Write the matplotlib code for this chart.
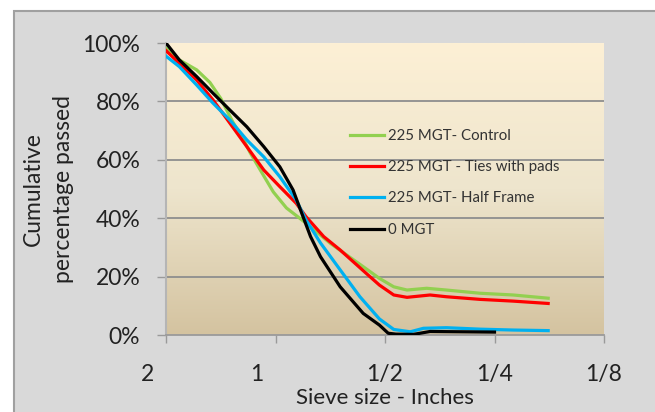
import numpy as np
import matplotlib.pyplot as plt
from matplotlib.patches import Rectangle
from matplotlib.transforms import ScaledTranslation
from matplotlib.colors import LinearSegmentedColormap

plt.rcParams['font.family'] = ['Lato', 'DejaVu Sans']

# sieve sizes (inches) and cumulative % passed
control_x = [2.0, 1.838, 1.647, 1.515, 1.414, 1.311, 1.225, 1.175, 1.101, 1.014, 0.933,
             0.824, 0.707, 0.574, 0.518, 0.473, 0.435, 0.384, 0.339, 0.274, 0.222, 0.178]
control_y = [98.2, 94.2, 90.8, 86.5, 81.0, 73.0, 67.0, 62.5, 56.5, 49.0, 43.5,
             38.3, 31.4, 23.4, 19.4, 16.5, 15.4, 16.0, 15.4, 14.3, 13.7, 12.6]

pads_x = [2.0, 1.838, 1.647, 1.485, 1.334, 1.199, 1.077, 0.973, 0.877, 0.824, 0.737,
          0.664, 0.563, 0.518, 0.473, 0.435, 0.376, 0.339, 0.274, 0.222, 0.178]
pads_y = [97.4, 93.0, 87.3, 80.5, 72.5, 64.5, 56.5, 50.8, 45.1, 40.5, 33.7,
          29.1, 21.1, 17.1, 13.7, 12.9, 13.7, 13.1, 12.2, 11.6, 10.8]

half_x = [2.0, 1.838, 1.647, 1.485, 1.334, 1.199, 1.077, 0.973, 0.877, 0.824, 0.752,
          0.664, 0.586, 0.518, 0.473, 0.426, 0.392, 0.339, 0.274, 0.222, 0.178]
half_y = [95.5, 91.9, 85.6, 79.4, 73.6, 66.8, 61.0, 54.2, 46.2, 39.4, 31.5,
          22.3, 13.1, 5.5, 1.9, 1.1, 2.3, 2.5, 2.0, 1.7, 1.5]

zero_x = [2.0, 1.838, 1.647, 1.485, 1.334, 1.199, 1.077, 0.973, 0.895, 0.847, 0.801,
          0.752, 0.664, 0.574, 0.518, 0.490, 0.467, 0.418, 0.376, 0.25]
zero_y = [100.0, 94.2, 88.5, 82.8, 77.0, 71.3, 64.5, 57.6, 49.7, 41.7, 33.7,
          26.8, 16.5, 7.4, 3.4, 0.6, 0.3, 0.2, 1.2, 1.0]

sieve_ticks = [2, 1, 0.5, 0.25, 0.125]
sieve_labels = ['2', '1', '1/2', '1/4', '1/8']
pct_ticks = [0, 20, 40, 60, 80, 100]

fig = plt.figure(figsize=(6.55, 4.12), dpi=100, facecolor='white')
# chart area box
fig.patches.append(Rectangle((14 / 655, -0.05), 1.1, 1.05 - 11 / 412,
                             transform=fig.transFigure, facecolor='#d9d9d9',
                             edgecolor='#a0a0a0', linewidth=1.5, zorder=-10))

ax = fig.add_axes([166 / 655, 1 - 335 / 412, 438 / 655, 292 / 412])
ax.set_xscale('log', base=2)
ax.set_xlim(2, 0.125)
ax.set_ylim(0, 100)

# gradient plot area
cmap = LinearSegmentedColormap.from_list('bg', ['#d4c3a0', '#eee5cd', '#fdf0d5'])
grad = np.linspace(0, 1, 256).reshape(-1, 1)
ax.imshow(grad, cmap=cmap, origin='lower', aspect='auto', extent=[0, 1, 0, 1],
          transform=ax.transAxes, zorder=0)

for v in pct_ticks[1:-1]:
    ax.axhline(v, color='#8e8e8e', linewidth=1.3, zorder=1)

lw = 2.3
ax.plot(control_x, control_y, color='#92d050', lw=lw, label='225 MGT- Control', zorder=3)
ax.plot(pads_x, pads_y, color='#ff0000', lw=lw, label='225 MGT - Ties with pads', zorder=3)
ax.plot(half_x, half_y, color='#00b0f0', lw=lw, label='225 MGT- Half Frame', zorder=3)
ax.plot(zero_x, zero_y, color='black', lw=lw, label='0 MGT', zorder=4)

ax.set_xticks(sieve_ticks)
ax.set_xticklabels(sieve_labels)
ax.xaxis.set_minor_locator(plt.NullLocator())
ax.set_yticks(pct_ticks)
ax.set_yticklabels([f'{v}%' for v in pct_ticks])

ax.tick_params(axis='x', length=6, width=1, color='#9a9a9a', pad=15, labelsize=16.5,
               labelcolor='#222222')
ax.tick_params(axis='y', length=6.5, width=1, color='#9a9a9a', pad=12, labelsize=16.5,
               labelcolor='#222222')
for lab in ax.get_xticklabels()[:2]:
    lab.set_transform(lab.get_transform() + ScaledTranslation(-0.19, 0, fig.dpi_scale_trans))

for s in ['top', 'right']:
    ax.spines[s].set_visible(False)
ax.spines['left'].set_color('#b5b5b5')
ax.spines['left'].set_linewidth(1.5)
ax.spines['bottom'].set_color('#9a9a9a')
ax.spines['bottom'].set_linewidth(1.3)

ax.set_xlabel('Sieve size - Inches', fontsize=16, color='#222222', labelpad=2)
ax.set_ylabel('Cumulative\npercentage passed', fontsize=16.5, color='#222222',
              labelpad=6, linespacing=1.55)

leg = ax.legend(loc='upper left', bbox_to_anchor=(350 / 655, 1 - 129 / 412),
                bbox_transform=fig.transFigure, frameon=False, fontsize=10.8,
                handlelength=2.25, handletextpad=0.28, labelspacing=1.15,
                borderaxespad=0, borderpad=0)
for t in leg.get_texts():
    t.set_color('#333333')

fig.savefig('out.png', dpi=100, facecolor=fig.get_facecolor())
